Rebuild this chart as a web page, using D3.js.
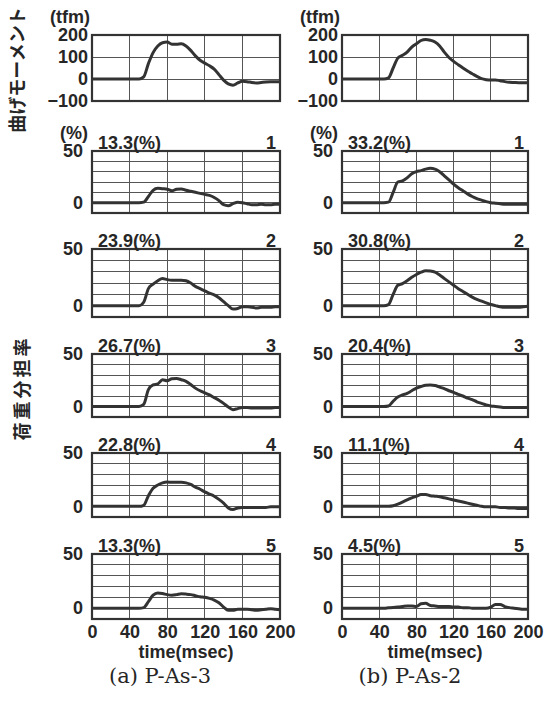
<!DOCTYPE html>
<html>
<head>
<meta charset="utf-8">
<script src="https://cdn.jsdelivr.net/npm/d3@7"></script>
<style>
  body { margin: 0; background: #fff; }
  text { font-family: "Liberation Sans", Arial, sans-serif; font-weight: bold; fill: #262626; }
  .jp { font-family: "Noto Sans CJK JP", sans-serif; font-weight: bold; }
  .caption { font-family: "DejaVu Serif", serif; font-weight: normal; }
</style>
</head>
<body>
<svg id="chart" width="552" height="701"></svg>
<script>
// time samples (msec)
var times = [0, 5, 10, 15, 20, 25, 30, 35, 40, 45, 50, 55, 60, 65, 70, 75, 80, 85, 90, 95, 100,
  105, 110, 115, 120, 125, 130, 135, 140, 145, 150, 155, 160, 165, 170, 175, 180, 185, 190, 195, 200];

// bending moment (tfm)
var momentA = [0, 0, 0, 0, 0, 0, 0, 0, 0, 0, 0, 10, 70, 120, 150, 165, 168, 158, 158, 160, 150,
  130, 105, 85, 72, 60, 45, 20, -5, -22, -28, -18, -10, -12, -16, -18, -16, -14, -13, -13, -13];
var momentB = [0, 0, 0, 0, 0, 0, 0, 0, 0, 0, 5, 50, 95, 108, 122, 145, 160, 175, 180, 176, 168,
  150, 122, 98, 80, 65, 50, 36, 24, 12, 2, -3, -5, -4, -8, -12, -15, -16, -17, -17, -17];

// load share of girders 1..5 (%) : (a) P-As-3
var shareA1 = [0, 0, 0, 0, 0, 0, 0, 0, 0, 0, 0, 0.5, 6, 12, 14, 13.5, 13, 11.5, 13, 13.3, 12,
  11, 10, 9, 8, 7, 5, 2, -2, -3, -1, 0.5, 0, -1, -2, -2, -1.5, -2, -2, -1.5, -1.5];
var shareA2 = [0, 0, 0, 0, 0, 0, 0, 0, 0, 0, 0, 3, 15, 19, 22, 24, 23, 22.5, 22.5, 22.5, 22,
  20, 17, 15, 13, 11, 9.5, 7, 3.5, 0, -3, -2.5, -1, -1, -1.5, -2, -1.5, -1.5, -1.5, -1, -1];
var shareA3 = [0, 0, 0, 0, 0, 0, 0, 0, 0, 0, 0, 2, 16, 20.5, 21.5, 25.5, 24.5, 26.5, 26.7, 25.5, 24,
  21, 17.5, 15, 13, 11, 8.5, 6, 3, -0.5, -3, -2, -1, -1, -1.5, -1.5, -1.5, -1.5, -1.5, -1, -1];
var shareA4 = [0, 0, 0, 0, 0, 0, 0, 0, 0, 0, 0, 1, 10, 17, 20, 22, 22.8, 22.5, 22.5, 22.5, 22,
  20.5, 18, 16, 13.5, 11.5, 9.5, 6.5, 3, -1.5, -3, -1.5, -1, -1, -1, -1, -1, -1, -0.5, -0.5, -0.5];
var shareA5 = [0, 0, 0, 0, 0, 0, 0, 0, 0, 0, 0, 0.5, 6, 12, 14, 13.5, 12.5, 12, 12.5, 13.3, 13,
  12.5, 11.5, 10.5, 10, 9, 7.5, 5, 1, -2, -2, -1, -1, -1, -1.5, -2, -1.5, -1, -0.5, -1, -1.5];

// load share of girders 1..5 (%) : (b) P-As-2
var shareB1 = [0, 0, 0, 0, 0, 0, 0, 0, 0, 0, 0.5, 10, 20, 21, 24, 28, 30, 31, 32.5, 33.2, 32.5,
  30, 26, 22, 18, 14.5, 11.5, 8.5, 6, 4, 2.5, 1, 0, -0.5, -1, -1.5, -1.5, -1.5, -1.5, -1.5, -1.5];
var shareB2 = [0, 0, 0, 0, 0, 0, 0, 0, 0, 0, 1, 10, 18, 19.5, 22, 25, 27.5, 29.5, 30.8, 30.5, 29.5,
  27, 24, 21, 18, 15, 12.5, 10, 7.5, 5.5, 4, 2.5, 1, 0, -1, -1.5, -1.5, -1.5, -1.5, -1, -0.5];
var shareB3 = [0, 0, 0, 0, 0, 0, 0, 0, 0, 0, 0.5, 5, 9, 11, 12.5, 15, 17.5, 19, 20.2, 20.4, 20,
  18.5, 17, 15, 13.5, 11.5, 10, 8, 6.5, 4.5, 3, 1.5, 0.5, 0, -0.5, -1, -1, -1, -1, -1, -1];
var shareB4 = [0, 0, 0, 0, 0, 0, 0, 0, 0, 0, 0, 0.5, 2, 4, 6, 8, 9.5, 11, 11.1, 10, 9.5,
  9, 8, 7, 6, 5, 4, 3, 2, 1, 0, -0.5, -0.5, -0.5, -1, -1, -1.5, -1.5, -2, -2, -2];
var shareB5 = [0, 0, 0, 0, 0, 0, 0, 0, 0, 0, 0.3, 0.6, 1, 1.5, 2, 2, 1.5, 4, 4.5, 2.5, 2,
  1.5, 1.5, 1.5, 1, 1, 0.5, 0.5, 0, 0, 0, 0, 1, 3.5, 3.5, 1.5, 0.5, 0, -0.5, -1, -1];

var peakA = ['13.3', '23.9', '26.7', '22.8', '13.3'];
var peakB = ['33.2', '30.8', '20.4', '11.1', '4.5'];
var girders = ['1', '2', '3', '4', '5'];

var xTicks = [0, 40, 80, 120, 160, 200];
var xGrid = [40, 80, 120, 160];
var momentTicks = [200, 100, 0, -100];
var momentGrid = [0, 100];
var shareTicks = [50, 0];
var shareGrid = [0, 10, 20, 30, 40];

// layout
var rowTop = [35, 151, 249, 354, 453, 554];
var rowBottom = [101, 213, 317, 417, 517, 619];

var columns = [
  { x0: 92, x1: 280, moment: momentA, shares: [shareA1, shareA2, shareA3, shareA4, shareA5], peaks: peakA, caption: '(a) P-As-3' },
  { x0: 342, x1: 528, moment: momentB, shares: [shareB1, shareB2, shareB3, shareB4, shareB5], peaks: peakB, caption: '(b) P-As-2' }
];

var svg = d3.select('#chart');

columns.forEach(function (col) {
  var xScale = d3.scaleLinear().domain([0, 200]).range([col.x0, col.x1]);

  for (var r = 0; r < 6; r++) {
    var isMoment = r === 0;
    var yScale = d3.scaleLinear()
      .domain(isMoment ? [-100, 200] : [-10, 50])
      .range([rowBottom[r], rowTop[r]]);
    var values = isMoment ? col.moment : col.shares[r - 1];
    var g = svg.append('g');

    /* ===== GRID ===== */
    g.selectAll('line.vgrid')
      .data(xGrid)
      .enter()
      .append('line')
      .attr('x1', function (d) { return xScale(d); })
      .attr('x2', function (d) { return xScale(d); })
      .attr('y1', rowTop[r])
      .attr('y2', rowBottom[r])
      .attr('stroke', '#555')
      .attr('stroke-width', 1)
      .attr('shape-rendering', 'crispEdges');

    g.selectAll('line.hgrid')
      .data(isMoment ? momentGrid : shareGrid)
      .enter()
      .append('line')
      .attr('x1', col.x0)
      .attr('x2', col.x1)
      .attr('y1', function (d) { return yScale(d); })
      .attr('y2', function (d) { return yScale(d); })
      .attr('stroke', '#555')
      .attr('stroke-width', 1)
      .attr('shape-rendering', 'crispEdges');

    /* ===== CURVE ===== */
    var line = d3.line()
      .x(function (d, i) { return xScale(times[i]); })
      .y(function (d) { return yScale(d); })
      .curve(d3.curveMonotoneX);

    g.append('path')
      .datum(values)
      .attr('d', line)
      .attr('fill', 'none')
      .attr('stroke', '#333')
      .attr('stroke-width', 3)
      .attr('stroke-linejoin', 'round');

    /* ===== FRAME ===== */
    g.append('rect')
      .attr('x', col.x0)
      .attr('y', rowTop[r])
      .attr('width', col.x1 - col.x0)
      .attr('height', rowBottom[r] - rowTop[r])
      .attr('fill', 'none')
      .attr('stroke', '#333')
      .attr('stroke-width', 2.2);

    /* ===== AXES ===== */
    var yAxis = d3.axisLeft(yScale)
      .tickValues(isMoment ? momentTicks : shareTicks)
      .tickSize(0)
      .tickPadding(isMoment ? 4 : 9);
    var ya = g.append('g').attr('transform', 'translate(' + col.x0 + ',0)').call(yAxis);
    ya.select('.domain').remove();
    ya.attr('font-family', null).attr('font-size', null);
    ya.selectAll('text').attr('font-size', 18).style('fill', '#262626');

    if (r === 5) {
      var xAxis = d3.axisBottom(xScale)
        .tickValues(xTicks)
        .tickSize(0)
        .tickPadding(6);
      var xa = g.append('g').attr('transform', 'translate(0,' + rowBottom[r] + ')').call(xAxis);
      xa.select('.domain').remove();
      xa.attr('font-family', null).attr('font-size', null);
      xa.selectAll('text').attr('font-size', 18).style('fill', '#262626');
    }

    /* ===== LABELS ===== */
    if (isMoment) {
      g.append('text')
        .attr('x', col.x0 - 2)
        .attr('y', rowTop[r] - 12)
        .attr('text-anchor', 'end')
        .attr('font-size', 18)
        .text('(tfm)');
    } else {
      if (r === 1) {
        g.append('text')
          .attr('x', col.x0 - 4)
          .attr('y', rowTop[r] - 12)
          .attr('text-anchor', 'end')
          .attr('font-size', 18)
          .text('(%)');
      }
      g.append('text')
        .attr('x', col.x0 + 6)
        .attr('y', rowTop[r] - 2)
        .attr('font-size', 18)
        .text(col.peaks[r - 1] + '(%)');
      g.append('text')
        .attr('x', col.x1 - 4)
        .attr('y', rowTop[r] - 2)
        .attr('text-anchor', 'end')
        .attr('font-size', 18)
        .text(girders[r - 1]);
    }
  }

  svg.append('text')
    .attr('x', (col.x0 + col.x1) / 2)
    .attr('y', 658)
    .attr('text-anchor', 'middle')
    .attr('font-size', 18)
    .text('time(msec)');

  svg.append('text')
    .attr('class', 'caption')
    .attr('x', col.x0 + 68)
    .attr('y', 683)
    .attr('text-anchor', 'middle')
    .attr('font-size', 21)
    .text(col.caption);
});

svg.append('text')
  .attr('class', 'jp')
  .attr('transform', 'translate(24,70) rotate(-90)')
  .attr('text-anchor', 'middle')
  .attr('font-size', 18)
  .text('曲げモーメント');

svg.append('text')
  .attr('class', 'jp')
  .attr('transform', 'translate(29,388) rotate(-90)')
  .attr('text-anchor', 'middle')
  .attr('font-size', 18)
  .attr('letter-spacing', 3)
  .text('荷重分担率');
</script>
</body>
</html>
